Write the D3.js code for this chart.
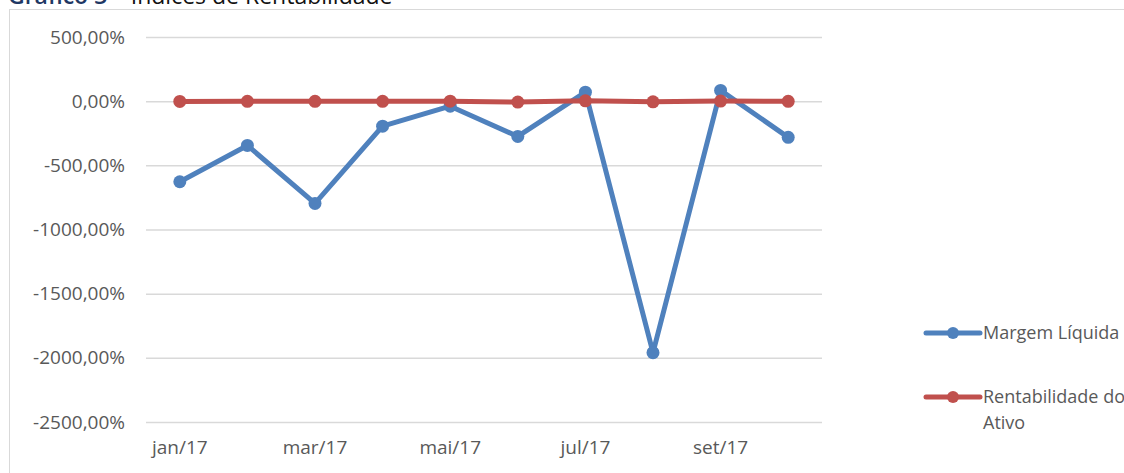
<!DOCTYPE html>
<html>
<head>
<meta charset="utf-8">
<script src="https://cdn.jsdelivr.net/npm/d3@7"></script>
<style>
  html, body { margin: 0; padding: 0; background: #fff; overflow: hidden; }
  svg { display: block; }
</style>
</head>
<body>
<div id="chart"></div>
<script>
  // Categories and series (values in %)
  const MONTHS = ['jan/17', 'fev/17', 'mar/17', 'abr/17', 'mai/17', 'jun/17', 'jul/17', 'ago/17', 'set/17', 'out/17'];
  const MARGEM = [-628, -345, -797, -195, -39, -275, 70, -1960, 84, -282];
  const RENTAB = [-2, -1, -1, -1, 0, -7, 3, -5, 1, -1];
  const Y_TICKS = [500, 0, -500, -1000, -1500, -2000, -2500];

  const SERIES = [
    { name: 'Margem Líquida', values: MARGEM, color: '#4F81BD' },
    { name: 'Rentabilidade do Ativo', values: RENTAB, color: '#C0504D' }
  ];

  const W = 1124, H = 473;
  const FONT = "'Open Sans', 'Noto Sans', sans-serif";
  const plot = { left: 146, right: 822, top: 37, bottom: 422 };

  const svg = d3.select('#chart').append('svg')
    .attr('width', W).attr('height', H);

  // Chart frame
  svg.append('rect')
    .attr('x', 9.5).attr('y', 9.5)
    .attr('width', W + 20).attr('height', H + 20)
    .attr('fill', '#fff').attr('stroke', '#D9D9D9').attr('stroke-width', 1);

  // Title (the page crops it at the top edge, as in the source)
  const title = svg.append('text')
    .attr('x', 8).attr('y', 4)
    .attr('font-family', FONT).attr('font-size', 23);
  title.append('tspan').attr('fill', '#1F3864').attr('font-weight', 600).text('Gráfico 3');
  title.append('tspan').attr('fill', '#111').text(' – Índices de Rentabilidade');

  const x = d3.scaleBand().domain(MONTHS).range([plot.left, plot.right]).padding(0);
  const y = d3.scaleLinear().domain([-2500, 500]).range([plot.bottom, plot.top]);
  const cx = d => x(d) + x.bandwidth() / 2;

  const fmt = v => v.toFixed(2).replace('.', ',') + '%';

  // Gridlines + y labels
  const yAxis = d3.axisLeft(y).tickValues(Y_TICKS).tickFormat(fmt)
    .tickSize(-(plot.right - plot.left)).tickPadding(21);
  const gy = svg.append('g').attr('transform', `translate(${plot.left},0)`).call(yAxis);
  gy.select('.domain').remove();
  gy.selectAll('.tick line').attr('stroke', '#D9D9D9').attr('stroke-width', 1.5);
  gy.selectAll('.tick text')
    .attr('fill', '#595959').attr('font-family', FONT).attr('font-size', 19);

  // x labels (every second category shown)
  const xAxis = d3.axisBottom(x)
    .tickValues(MONTHS.filter((d, i) => i % 2 === 0))
    .tickSize(0).tickPadding(19);
  const gx = svg.append('g').attr('transform', `translate(0,${plot.bottom})`).call(xAxis);
  gx.select('.domain').remove();
  gx.selectAll('.tick text')
    .attr('fill', '#595959').attr('font-family', FONT).attr('font-size', 19);

  // Lines and markers
  const line = d3.line().x((d, i) => cx(MONTHS[i])).y(d => y(d));
  SERIES.forEach(s => {
    svg.append('path')
      .datum(s.values)
      .attr('d', line)
      .attr('fill', 'none')
      .attr('stroke', s.color).attr('stroke-width', 5)
      .attr('stroke-linejoin', 'round');
    svg.selectAll(null)
      .data(s.values)
      .enter().append('circle')
      .attr('cx', (d, i) => cx(MONTHS[i]))
      .attr('cy', d => y(d))
      .attr('r', 6.5)
      .attr('fill', s.color);
  });

  // Legend
  const legendY = [333, 397];
  SERIES.forEach((s, i) => {
    const g = svg.append('g').attr('transform', `translate(926,${legendY[i]})`);
    g.append('line')
      .attr('x1', 0).attr('x2', 54).attr('y1', 0).attr('y2', 0)
      .attr('stroke', s.color).attr('stroke-width', 5).attr('stroke-linecap', 'round');
    g.append('circle').attr('cx', 27).attr('cy', 0).attr('r', 6).attr('fill', s.color);
    const words = i === 0 ? [s.name] : ['Rentabilidade do', 'Ativo'];
    const t = g.append('text')
      .attr('x', 57).attr('y', 6)
      .attr('fill', '#595959').attr('font-family', FONT).attr('font-size', 18);
    words.forEach((w, k) => {
      t.append('tspan').attr('x', 57).attr('dy', k === 0 ? 0 : 26).text(w);
    });
  });
</script>
</body>
</html>
